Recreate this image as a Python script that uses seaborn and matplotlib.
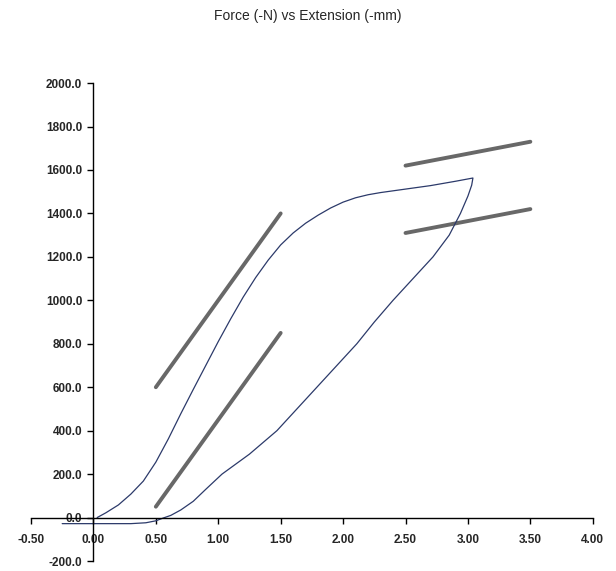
import numpy as np
import pandas as pd
import matplotlib
matplotlib.use("Agg")
import matplotlib.pyplot as plt
from matplotlib.ticker import FormatStrFormatter
import seaborn as sns

# loading branch of the loop (extension mm, force N)
load_x = [0.03, 0.10, 0.20, 0.30, 0.40, 0.50, 0.60, 0.70, 0.80, 0.90, 1.00, 1.10,
          1.20, 1.30, 1.40, 1.50, 1.60, 1.70, 1.80, 1.90, 2.00, 2.10, 2.20, 2.30,
          2.50, 2.70, 2.90, 3.04]
load_y = [0, 22, 58, 108, 168, 255, 362, 478, 590, 700, 810, 915,
          1015, 1105, 1185, 1255, 1310, 1355, 1392, 1425, 1452, 1472, 1486, 1496,
          1512, 1528, 1548, 1563]

# unloading branch
unload_x = [3.04, 3.03, 3.00, 2.94, 2.85, 2.72, 2.56, 2.40, 2.25, 2.11, 1.95, 1.79,
            1.63, 1.47, 1.25, 1.03, 0.90, 0.80, 0.70, 0.62, 0.56, 0.50, 0.42, 0.30,
            -0.25]
unload_y = [1563, 1530, 1480, 1400, 1300, 1200, 1100, 1000, 900, 800, 700, 600,
            500, 400, 292, 200, 130, 75, 35, 10, -2, -15, -24, -28,
            -28]

# straight reference lines (start, end)
ref_x = [[0.5, 1.5], [0.5, 1.5], [2.5, 3.5], [2.5, 3.5]]
ref_y = [[600, 1400], [50, 850], [1620, 1730], [1310, 1420]]

sns.set_style("white")
plt.rcParams['font.family'] = ['Liberation Sans', 'DejaVu Sans']

loop = pd.DataFrame({'x': load_x + unload_x, 'y': load_y + unload_y})

fig = plt.figure(figsize=(6.16, 5.71), dpi=100)
ax = fig.add_axes([0.0503, 0.0175, 0.912, 0.837])

for xs, ys in zip(ref_x, ref_y):
    sns.lineplot(x=xs, y=ys, ax=ax, color='#686868', linewidth=2.8,
                 solid_capstyle='round')

sns.lineplot(data=loop, x='x', y='y', ax=ax, sort=False, estimator=None,
             color='#2c3a6a', linewidth=0.9)

ax.set_xlim(-0.5, 4.0)
ax.set_ylim(-200, 2000)
ax.set_xticks(np.arange(-0.5, 4.01, 0.5))
ax.set_yticks(np.arange(-200, 2001, 200))
ax.xaxis.set_major_formatter(FormatStrFormatter('%.2f'))
ax.yaxis.set_major_formatter(FormatStrFormatter('%.1f'))

ax.spines['left'].set_position(('data', 0))
ax.spines['bottom'].set_position(('data', 0))
ax.spines['top'].set_visible(False)
ax.spines['right'].set_visible(False)
for s in ('left', 'bottom'):
    ax.spines[s].set_color('black')
    ax.spines[s].set_linewidth(1.0)

ax.tick_params(axis='both', direction='out', length=4, width=1, color='black',
               labelsize=8.5, bottom=True, left=True)
ax.tick_params(axis='x', pad=8)
ax.tick_params(axis='y', pad=4)
for lab in ax.get_xticklabels() + ax.get_yticklabels():
    lab.set_fontweight('bold')

ax.set_xlabel('')
ax.set_ylabel('')
fig.suptitle('Force (-N) vs Extension (-mm)', x=0.5, y=0.985, fontsize=10)

fig.savefig('out.png', dpi=100)
